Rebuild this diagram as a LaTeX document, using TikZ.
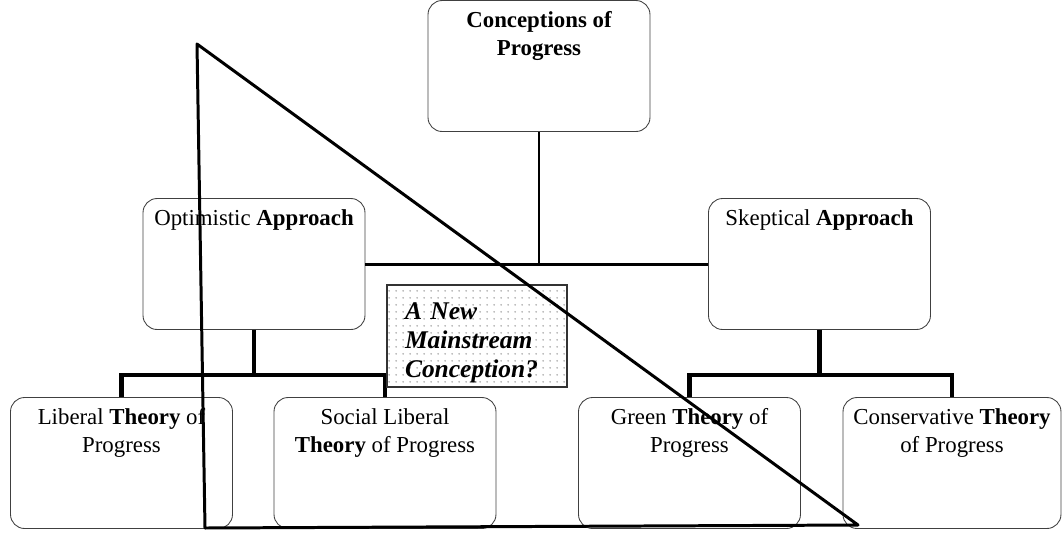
\documentclass[tikz,border=0pt]{standalone}
\usepackage{fontspec}
\setmainfont{Liberation Serif}
\usetikzlibrary{patterns.meta, calc}

\tikzdeclarepattern{
  name=sparsedots,
  type=uncolored,
  bounding box={(0pt,0pt) and (4pt,4pt)},
  tile size={(4pt,4pt)},
  code={\fill (2pt,2pt) circle (0.6pt);}
}

\begin{document}
\begin{tikzpicture}[
    x=0.02cm, y=-0.02cm,
    box/.style={rectangle, rounded corners=8pt, draw=black!75, line width=0.5pt,
                minimum width=4.44cm, minimum height=2.62cm},
    boxtext/.style={anchor=north, yshift=-3pt, align=center, font=\fontsize{13}{16}\selectfont},
    note/.style={rectangle, draw=black!80, line width=0.6pt, pattern=sparsedots, pattern color=black!35,
                 minimum width=3.6cm, minimum height=2.04cm, text width=2.88cm, inner xsep=0.36cm,
                 inner ysep=0pt, align=left, font=\fontsize{14.5}{16.5}\selectfont\bfseries\itshape},
    link/.style={line width=1.7pt},
    fork/.style={line width=2.5pt},
    stroke/.style={line width=1.7pt, line join=round}
]
    \useasboundingbox (0,0) rectangle (1063,532);

    % boxes
    \node[box, label={[boxtext]north:{\bfseries Conceptions of\\\bfseries Progress}}] (concept) at (539,66) {};
    \node[box, label={[boxtext]north:{Optimistic \textbf{Approach}}}] (opt) at (254,264) {};
    \node[box, label={[boxtext]north:{Skeptical \textbf{Approach}}}] (skep) at (819.5,264) {};
    \node[box, label={[boxtext]north:{Liberal \textbf{Theory} of\\Progress}}] (lib) at (121.5,463) {};
    \node[box, label={[boxtext]north:{Social Liberal\\\textbf{Theory} of Progress}}] (soc) at (385,463) {};
    \node[box, label={[boxtext]north:{Green \textbf{Theory} of\\Progress}}] (green) at (689.5,463) {};
    \node[box, minimum width=4.36cm, label={[boxtext]north:{Conservative \textbf{Theory}\\of Progress}}] (cons) at (952,463) {};

    % tree lines
    \draw[link] (concept) -- (concept |- opt);
    \draw[link] (opt) -- (skep);
    \coordinate (optfork) at ($(opt.south)+(0,45)$);
    \coordinate (skepfork) at ($(skep.south)+(0,45)$);
    \draw[fork] (opt) -- (optfork) -| (lib);
    \draw[fork] (optfork) -| (soc);
    \draw[fork] (skep) -- (skepfork) -| (green);
    \draw[fork] (skepfork) -| (cons);

    \node[note] (newmain) at (477,336) {\rule{0pt}{17pt}A New\\Mainstream\\Conception?};

    % triangle
    \coordinate (ta) at (197,44);
    \coordinate (tb) at (205,528);
    \coordinate (tc) at (858,525);
    \draw[stroke] (ta) -- (tb) -- (tc) -- cycle;
\end{tikzpicture}
\end{document}
